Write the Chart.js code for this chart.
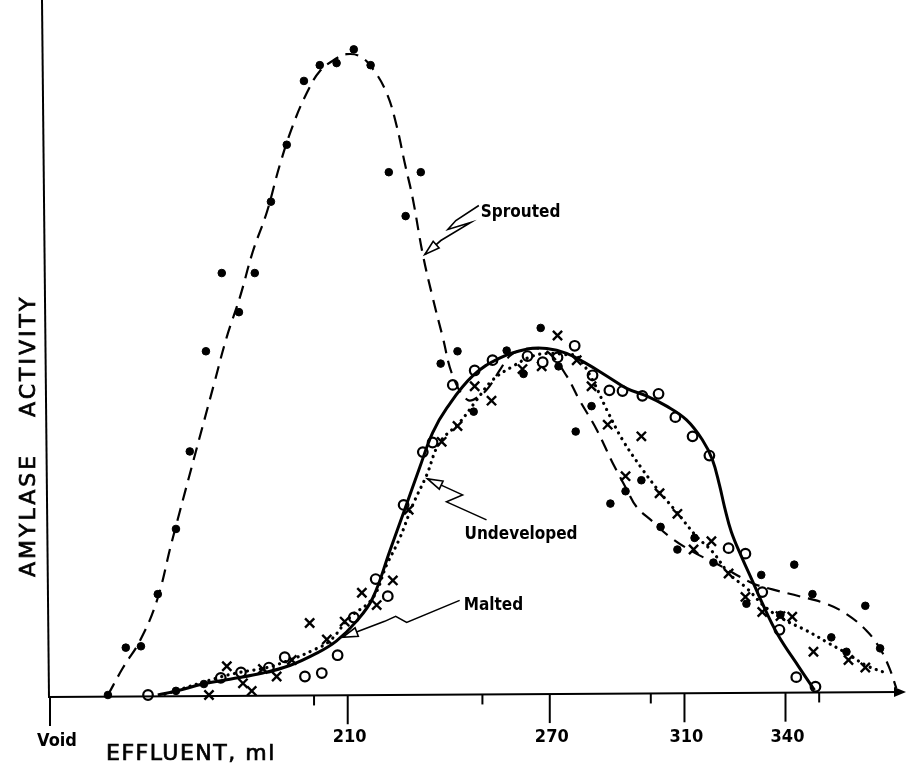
<!DOCTYPE html>
<html>
<head>
<meta charset="utf-8">
<script src="https://cdn.jsdelivr.net/npm/chart.js@4.4.1/dist/chart.umd.min.js"></script>
<style>
  html, body { margin: 0; padding: 0; background: #fff; }
  canvas { display: block; }
</style>
</head>
<body>
<canvas id="chart" width="917" height="763"></canvas>
<script>
// effluent volume (ml) on x, amylase activity (arbitrary units, 0-100) on y

// x axis
const xMin = 121;
const xMax = 374;
const majorTicks = [121, 210, 270, 310, 340];
const majorLabels = ["Void", "210", "270", "310", "340"];
const minorTicks = [200, 250, 300, 350];

// Sprouted: filled dots + dashed curve
const sproutedX = [138.8, 144.1, 148.6, 153.6, 159.0, 163.1, 167.9, 172.6, 177.7, 182.4, 187.2, 191.9, 197.0, 201.7, 206.7, 211.8, 216.8, 222.2, 227.2, 231.7, 237.6, 242.6, 247.4, 257.2, 262.2, 267.3, 272.6, 277.7, 282.4, 288.0, 292.5, 297.2, 302.9, 307.9, 313.0, 318.6, 328.4, 332.8, 338.5, 342.6, 348.0, 353.6, 358.1, 363.7, 368.1, 159.0, 167.3];
const sproutedY = [0, 6.9, 7.1, 14.7, 24.2, 35.5, 50.1, 61.5, 55.8, 61.5, 71.9, 80.2, 89.5, 91.8, 92.1, 94.1, 91.8, 76.2, 69.8, 76.2, 48.3, 50.1, 41.3, 50.2, 46.8, 53.5, 47.9, 38.4, 42.1, 27.9, 29.7, 31.3, 24.5, 21.2, 22.9, 19.3, 13.3, 17.5, 11.7, 19.0, 14.7, 8.4, 6.3, 13.0, 6.8, 0.6, 1.6];
const sproutedCurveX = [138.8, 143.3, 148.3, 153.3, 157.8, 170.5, 174.1, 178.0, 181.8, 186.0, 189.8, 193.7, 197.8, 201.7, 206.7, 209.7, 213.6, 217.4, 221.6, 224.5, 226.9, 229.3, 232.3, 235.2, 238.2, 241.2, 245.6, 249.2, 252.1, 255.1, 258.1, 261.0, 266.1, 269.9, 275.0, 278.8, 283.9, 288.6, 292.8, 295.8, 300.5, 305.5, 312.4, 320.4, 330.2, 336.1, 344.1, 352.1, 358.1, 364.0, 367.9, 370.8, 372.9];
const sproutedCurveY = [0, 4.0, 7.9, 13.7, 22.4, 45.7, 52.2, 58.0, 64.6, 70.4, 77.2, 83.0, 87.7, 90.9, 92.8, 93.4, 93.1, 91.3, 87.7, 83.0, 77.6, 72.4, 64.2, 58.0, 52.2, 46.5, 43.0, 43.6, 45.0, 47.3, 49.4, 50.2, 50.5, 49.8, 46.5, 43.0, 38.7, 33.9, 30.0, 27.4, 25.3, 23.1, 20.9, 18.9, 16.3, 15.4, 14.4, 13.3, 11.8, 9.4, 6.9, 4.0, 1.0];

// Malted: open circles + solid curve
const maltedX = [150.7, 172.3, 178.3, 186.6, 191.3, 197.3, 202.3, 207.0, 211.8, 218.3, 221.9, 226.6, 232.3, 235.2, 241.2, 247.7, 253.0, 263.4, 267.9, 272.3, 277.4, 282.7, 287.7, 291.6, 297.5, 302.3, 307.3, 312.4, 317.4, 323.1, 328.1, 333.1, 338.2, 343.2, 348.9];
const maltedY = [0, 2.5, 3.3, 4.0, 5.5, 2.7, 3.2, 5.8, 11.3, 16.9, 14.4, 27.7, 35.4, 36.8, 45.2, 47.3, 48.8, 49.4, 48.5, 49.2, 50.9, 46.6, 44.4, 44.3, 43.6, 43.9, 40.5, 37.7, 34.9, 21.4, 20.6, 15.0, 9.5, 2.6, 1.2];
const maltedCurveX = [153.6, 159.3, 167.0, 175.0, 184.8, 192.8, 200.8, 206.7, 212.7, 217.4, 222.5, 226.9, 231.4, 235.2, 239.4, 247.1, 255.1, 263.1, 269.1, 275.0, 280.9, 286.9, 292.8, 298.7, 304.7, 310.6, 315.3, 318.3, 320.4, 321.9, 323.9, 326.9, 330.2, 332.8, 337.6, 344.1, 348.6];
const maltedCurveY = [0, 0.6, 1.6, 2.3, 3.2, 4.3, 6.1, 7.9, 10.8, 14.1, 21.0, 27.0, 33.2, 38.2, 41.8, 46.5, 49.1, 50.4, 50.5, 49.8, 48.3, 46.5, 44.7, 43.6, 42.1, 40.1, 37.2, 34.3, 30.6, 27.4, 23.8, 20.2, 16.6, 13.7, 8.9, 4.0, 0.7];

// Undeveloped: crosses + dotted curve
const undevelopedX = [168.8, 174.1, 178.9, 181.5, 184.8, 188.9, 193.4, 198.7, 203.8, 209.1, 214.2, 218.6, 223.4, 228.1, 237.9, 242.6, 247.7, 252.7, 261.9, 267.6, 272.3, 278.0, 282.4, 287.2, 292.5, 297.2, 302.6, 307.9, 312.7, 318.0, 323.1, 328.1, 333.1, 338.5, 342.0, 348.3, 358.7, 363.7];
const undevelopedY = [0, 4.2, 1.7, 0.6, 3.8, 2.7, 5.1, 10.5, 8.1, 10.7, 14.9, 13.1, 16.7, 27.0, 36.9, 39.2, 45.0, 42.9, 47.5, 47.9, 52.4, 48.8, 45.0, 39.4, 31.9, 37.7, 29.4, 26.4, 21.2, 22.4, 17.7, 14.3, 12.1, 11.5, 11.4, 6.3, 5.1, 4.0];
const undevelopedCurveX = [155.7, 172.0, 178.0, 186.0, 192.8, 199.6, 204.7, 210.6, 217.4, 221.6, 225.4, 229.3, 233.4, 237.3, 243.2, 248.3, 253.0, 259.0, 264.9, 269.9, 275.0, 278.0, 282.7, 286.9, 291.6, 297.5, 302.6, 307.6, 313.6, 318.3, 323.4, 328.4, 334.3, 340.3, 346.2, 353.0, 358.1, 364.0, 369.9];
const undevelopedCurveY = [0.1, 2.6, 3.3, 4.0, 5.1, 6.5, 7.9, 11.3, 14.1, 19.0, 22.8, 27.7, 32.0, 36.8, 39.7, 43.0, 45.9, 47.9, 49.4, 49.8, 49.6, 49.4, 45.9, 41.6, 37.2, 32.9, 29.6, 26.7, 23.1, 20.9, 17.6, 15.6, 12.7, 10.8, 9.4, 7.5, 6.1, 4.3, 3.2];

// curve labels: text, arrow tip (data units)
const labelNames = ["Sprouted", "Undeveloped", "Malted"];
const labelTips = [[232.9, 64.2], [233.7, 31.5], [208.5, 8.4]];

function pts(xs, ys) {
  return xs.map((x, i) => ({ x: x, y: ys[i] }));
}

// text offset and zigzag path, in pixels from the arrow tip
const labelLayout = [
  { dx: 56, dy: -38, path: [[54, -49], [31, -34], [23, -25], [46, -32], [16, -14], [0, 0]] },
  { dx: 37, dy: 60, path: [[59, 41], [19, 23], [35, 16], [0, 0]] },
  { dx: 121, dy: -27, path: [[117, -37], [64, -15], [53, -21], [42, -16], [0, 0]] }
];

const condensed = "'DejaVu Sans Condensed', 'DejaVu Sans', sans-serif";

const paperAxes = {
  id: "paperAxes",
  afterDatasetsDraw(chart) {
    const { ctx, chartArea: a, scales: { x, y } } = chart;
    const y0 = y.getPixelForValue(0);
    const axisY = px => y0 + 2 - 5 * (px - a.left) / (a.right - a.left);

    ctx.save();
    ctx.strokeStyle = "#000";
    ctx.fillStyle = "#000";
    ctx.lineWidth = 2;

    // vertical axis (no ticks)
    ctx.beginPath();
    ctx.moveTo(a.left - 6, 0);
    ctx.lineTo(a.left + 1, axisY(a.left) + 1);
    ctx.stroke();

    // horizontal axis with arrow
    ctx.beginPath();
    ctx.moveTo(a.left, axisY(a.left));
    ctx.lineTo(a.right, axisY(a.right));
    ctx.stroke();
    ctx.beginPath();
    ctx.moveTo(a.right + 6, axisY(a.right));
    ctx.lineTo(a.right - 6, axisY(a.right) - 5);
    ctx.lineTo(a.right - 6, axisY(a.right) + 5);
    ctx.closePath();
    ctx.fill();

    majorTicks.forEach(v => {
      const px = x.getPixelForValue(v) + (v === xMin ? 2 : 0);
      ctx.beginPath();
      ctx.moveTo(px, axisY(px));
      ctx.lineTo(px, axisY(px) + 29);
      ctx.stroke();
    });
    minorTicks.forEach(v => {
      const px = x.getPixelForValue(v);
      ctx.beginPath();
      ctx.moveTo(px, axisY(px));
      ctx.lineTo(px, axisY(px) + 10);
      ctx.stroke();
    });

    ctx.font = "bold 18px " + condensed;
    ctx.textAlign = "center";
    ctx.textBaseline = "alphabetic";
    majorTicks.forEach((v, i) => {
      const px = x.getPixelForValue(v);
      if (v === xMin) ctx.fillText(majorLabels[i], px + 9, y0 + 51);
      else ctx.fillText(majorLabels[i], px + 2, y0 + 47);
    });

    // axis titles, slightly heavier than regular weight
    ctx.font = "22px 'DejaVu Sans', sans-serif";
    ctx.lineWidth = 0.7;
    ctx.letterSpacing = "1.5px";
    ctx.textAlign = "left";
    ctx.fillText("EFFLUENT, ml", 106, y0 + 65);
    ctx.strokeText("EFFLUENT, ml", 106, y0 + 65);

    ctx.letterSpacing = "3px";
    ctx.save();
    ctx.translate(35, 0);
    ctx.rotate(-Math.PI / 2);
    ctx.fillText("AMYLASE", -577, 0);
    ctx.strokeText("AMYLASE", -577, 0);
    ctx.fillText("ACTIVITY", -417, 0);
    ctx.strokeText("ACTIVITY", -417, 0);
    ctx.restore();
    ctx.letterSpacing = "0px";

    // curve labels with zigzag arrows
    ctx.font = "bold 17px " + condensed;
    ctx.lineWidth = 1.6;
    labelNames.forEach((name, i) => {
      const tx = x.getPixelForValue(labelTips[i][0]);
      const ty = y.getPixelForValue(labelTips[i][1]);
      const lay = labelLayout[i];
      ctx.fillText(name, tx + lay.dx, ty + lay.dy);

      const path = lay.path;
      ctx.beginPath();
      path.forEach((p, k) => {
        if (k === 0) ctx.moveTo(tx + p[0], ty + p[1]);
        else ctx.lineTo(tx + p[0], ty + p[1]);
      });
      ctx.stroke();

      // open arrowhead
      const prev = path[path.length - 2];
      const ang = Math.atan2(-prev[1], -prev[0]);
      const len = 15, half = 4.5;
      const bx = tx - Math.cos(ang) * len, by = ty - Math.sin(ang) * len;
      const nx = -Math.sin(ang) * half, ny = Math.cos(ang) * half;
      ctx.beginPath();
      ctx.moveTo(tx, ty);
      ctx.lineTo(bx + nx, by + ny);
      ctx.lineTo(bx - nx, by - ny);
      ctx.closePath();
      ctx.fillStyle = "#fff";
      ctx.fill();
      ctx.stroke();
      ctx.fillStyle = "#000";
    });

    ctx.restore();
  }
};

new Chart(document.getElementById("chart"), {
  type: "scatter",
  data: {
    datasets: [
      {
        label: "Sprouted curve",
        data: pts(sproutedCurveX, sproutedCurveY),
        showLine: true,
        pointRadius: 0,
        borderColor: "#000",
        borderWidth: 2.2,
        borderDash: [13, 8],
        tension: 0.4,
        clip: false
      },
      {
        label: "Malted curve",
        data: pts(maltedCurveX, maltedCurveY),
        showLine: true,
        pointRadius: 0,
        borderColor: "#000",
        borderWidth: 3,
        tension: 0.4,
        clip: false
      },
      {
        label: "Undeveloped curve",
        data: pts(undevelopedCurveX, undevelopedCurveY),
        showLine: true,
        pointRadius: 0,
        borderColor: "#000",
        borderWidth: 3.2,
        borderDash: [0.1, 6.5],
        borderCapStyle: "round",
        tension: 0.4,
        clip: false
      },
      {
        label: "Sprouted",
        data: pts(sproutedX, sproutedY),
        pointStyle: "circle",
        pointRadius: 3.8,
        backgroundColor: "#000",
        borderColor: "#000",
        borderWidth: 1,
        clip: false
      },
      {
        label: "Malted",
        data: pts(maltedX, maltedY),
        pointStyle: "circle",
        pointRadius: 4.8,
        backgroundColor: "#fff",
        borderColor: "#000",
        borderWidth: 2.2,
        clip: false
      },
      {
        label: "Undeveloped",
        data: pts(undevelopedX, undevelopedY),
        pointStyle: "crossRot",
        pointRadius: 6.5,
        borderColor: "#000",
        borderWidth: 2.4,
        clip: false
      }
    ]
  },
  options: {
    responsive: false,
    animation: false,
    devicePixelRatio: 1,
    layout: { padding: { left: 48, right: 17, top: 2, bottom: 68 } },
    scales: {
      x: { type: "linear", min: xMin, max: xMax, display: false },
      y: { type: "linear", min: 0, max: 100, display: false }
    },
    plugins: {
      legend: { display: false },
      tooltip: { enabled: false }
    }
  },
  plugins: [paperAxes]
});
</script>
</body>
</html>
